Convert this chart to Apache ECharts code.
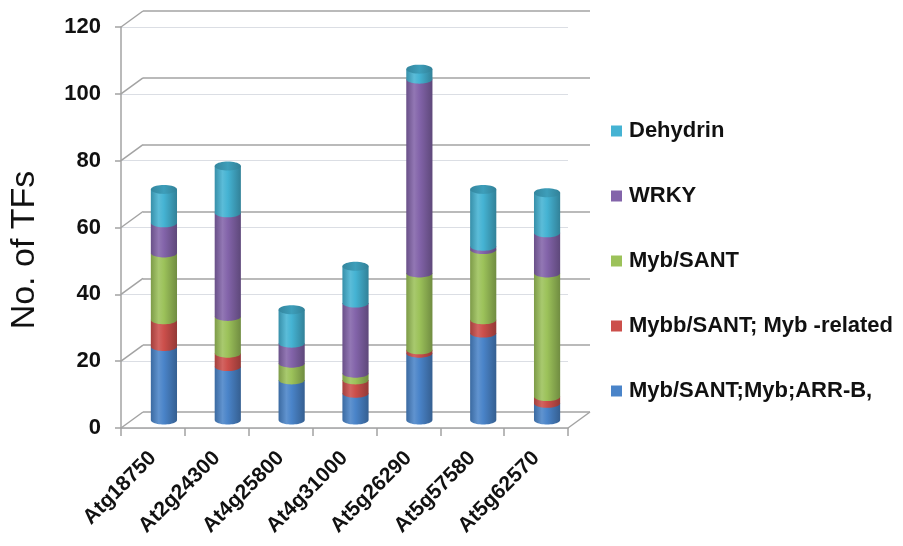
<!DOCTYPE html>
<html>
<head>
<meta charset="utf-8">
<script src="https://cdn.jsdelivr.net/npm/echarts@6/dist/echarts.min.js"></script>
<style>
  html, body { margin: 0; padding: 0; background: #fff; }
  #chart { width: 903px; height: 546px; }
</style>
</head>
<body>
<div id="chart"></div>
<script>
// Promoter genes and the transcription-factor families binding them
const categories = ['Atg18750', 'At2g24300', 'At4g25800', 'At4g31000', 'At5g26290', 'At5g57580', 'At5g62570'];

// Stack order, bottom to top
const arrB      = [22, 16, 12,  8, 20, 26,  5];   // Myb/SANT;Myb;ARR-B,
const mybRel    = [ 8,  4,  0,  4,  1,  4,  2];   // Mybb/SANT; Myb -related
const mybSant   = [20, 11,  5,  2, 23, 21, 37];   // Myb/SANT
const wrky      = [ 9, 31,  6, 21, 58,  1, 12];   // WRKY
const dehydrin  = [10, 14, 10, 11,  3, 17, 12];   // Dehydrin

const yTicks = [0, 20, 40, 60, 80, 100, 120];

const seriesDefs = [
  { name: 'Myb/SANT;Myb;ARR-B,',      values: arrB,     color: '#4a84c9' },
  { name: 'Mybb/SANT; Myb -related',  values: mybRel,   color: '#cc4f4b' },
  { name: 'Myb/SANT',                 values: mybSant,  color: '#9cc25a' },
  { name: 'WRKY',                     values: wrky,     color: '#8364aa' },
  { name: 'Dehydrin',                 values: dehydrin, color: '#45b3d3' }
];

// Pseudo-3D layout: front plane, back wall shifted by DEPTH, bars half-way
const FRONT = { left: 121, top: 27, width: 447, height: 401 };
const DEPTH = { dx: 22, dy: -16 };
const LINE = '#a3a3a3';
const FONT = 'Arial, "Liberation Sans", sans-serif';

function hexToRgb(h) {
  const n = parseInt(h.slice(1), 16);
  return [(n >> 16) & 255, (n >> 8) & 255, n & 255];
}
function mix(hex, target, t) {
  const a = hexToRgb(hex), b = hexToRgb(target);
  const c = a.map((v, i) => Math.round(v + (b[i] - v) * t));
  return 'rgb(' + c.join(',') + ')';
}

// cumulative stacks: [categoryIndex, base, top, isTopSegment]
const stackData = [];
(function () {
  const base = categories.map(() => 0);
  const totals = categories.map((_, i) => seriesDefs.reduce((s, d) => s + d.values[i], 0));
  seriesDefs.forEach(def => {
    stackData.push(categories.map((_, i) => {
      const b = base[i];
      const t = b + def.values[i];
      base[i] = t;
      return [i, b, t, (t === totals[i] && def.values[i] > 0) ? 1 : 0];
    }));
  });
})();

function ellipsePoints(cx, cy, rx, ry, a0, a1, n) {
  const pts = [];
  for (let k = 0; k <= n; k++) {
    const a = a0 + (a1 - a0) * k / n;
    pts.push([cx + rx * Math.cos(a), cy + ry * Math.sin(a)]);
  }
  return pts;
}

function makeCylinderRenderer(color) {
  const side = {
    type: 'linear', x: 0, y: 0, x2: 1, y2: 0,
    colorStops: [
      { offset: 0, color: mix(color, '#000000', 0.2) },
      { offset: 0.3, color: mix(color, '#ffffff', 0.12) },
      { offset: 0.5, color: color },
      { offset: 1, color: mix(color, '#000000', 0.28) }
    ]
  };
  const cap = {
    type: 'linear', x: 0, y: 0, x2: 1, y2: 0,
    colorStops: [
      { offset: 0, color: mix(color, '#000000', 0.25) },
      { offset: 0.5, color: mix(color, '#000000', 0.12) },
      { offset: 1, color: mix(color, '#000000', 0.28) }
    ]
  };
  return function (params, api) {
    const i = api.value(0), b = api.value(1), t = api.value(2), isTop = api.value(3);
    if (t - b <= 0) return null;
    const pT = api.coord([i, t]);
    const pB = api.coord([i, b]);
    const w = api.size([1, 0])[0] * 0.41;
    const rx = w / 2, ry = 4.5;
    const cx = pT[0];
    const pts = [[cx - rx, pT[1]], [cx - rx, pB[1]]]
      .concat(ellipsePoints(cx, pB[1], rx, ry, Math.PI, 0, 24))
      .concat([[cx + rx, pT[1]]]);
    const children = [{ type: 'polygon', shape: { points: pts }, style: { fill: side } }];
    if (isTop) {
      children.push({
        type: 'polygon',
        shape: { points: ellipsePoints(cx, pT[1], rx, ry, 0, Math.PI * 2, 40) },
        style: { fill: cap }
      });
    }
    return { type: 'group', children: children };
  };
}

const chart = echarts.init(document.getElementById('chart'), null, { renderer: 'canvas' });

const valueAxisBase = { type: 'value', min: yTicks[0], max: yTicks[yTicks.length - 1], interval: yTicks[1] - yTicks[0] };

const option = {
  backgroundColor: '#ffffff',
  animation: false,
  grid: [
    { left: FRONT.left + DEPTH.dx, top: FRONT.top + DEPTH.dy, width: FRONT.width, height: FRONT.height },
    { left: FRONT.left, top: FRONT.top, width: FRONT.width, height: FRONT.height },
    { left: FRONT.left + DEPTH.dx / 2, top: FRONT.top + DEPTH.dy / 2, width: FRONT.width, height: FRONT.height }
  ],
  xAxis: [
    { gridIndex: 0, type: 'category', data: categories, show: false },
    {
      gridIndex: 1, type: 'category', data: categories,
      axisLine: { show: true, lineStyle: { color: LINE, width: 1.5 } },
      axisTick: { show: true, length: 8, alignWithLabel: false, lineStyle: { color: LINE, width: 1.5 } },
      axisLabel: { interval: 0, rotate: 45, margin: 27, color: '#111', fontSize: 21, fontWeight: 'bold', fontFamily: FONT }
    },
    { gridIndex: 2, type: 'category', data: categories, show: false }
  ],
  yAxis: [
    Object.assign({ gridIndex: 0 }, valueAxisBase, {
      axisLine: { show: false }, axisTick: { show: false }, axisLabel: { show: false },
      splitLine: { show: true, lineStyle: { color: LINE, width: 1.5 } }
    }),
    Object.assign({ gridIndex: 1 }, valueAxisBase, {
      axisLine: { show: true, lineStyle: { color: LINE, width: 1.5 } },
      axisTick: { show: true, length: 6, lineStyle: { color: LINE, width: 1.5 } },
      axisLabel: { margin: 20, color: '#111', fontSize: 22, fontWeight: 'bold', fontFamily: FONT }
    }),
    Object.assign({ gridIndex: 2 }, valueAxisBase, { show: false, splitLine: { show: false } })
  ],
  legend: {
    orient: 'vertical',
    left: 606,
    top: 115,
    itemWidth: 11,
    itemHeight: 11,
    itemGap: 43,
    icon: 'rect',
    selectedMode: false,
    data: seriesDefs.map(d => d.name).reverse(),
    textStyle: { color: '#111', fontSize: 22, fontWeight: 'bold', fontFamily: FONT, lineHeight: 22, padding: [0, 0, 0, 2] }
  },
  graphic: [
    {
      type: 'text', x: 25, y: 250, rotation: Math.PI / 2,
      style: { text: 'No. of TFs', fill: '#111', font: '34px ' + FONT, textAlign: 'center', textVerticalAlign: 'middle' }
    }
  ],
  series: [
    {
      // slanted edges joining the front axis to the back wall at each tick
      type: 'custom', name: '__edges', xAxisIndex: 0, yAxisIndex: 0, silent: true, z: 1,
      data: yTicks.map(v => [0, v]),
      renderItem: function (params, api) {
        const v = api.value(1);
        const y = api.coord([0, v])[1];
        const cs = params.coordSys;
        const st = { stroke: LINE, lineWidth: 1.5 };
        const kids = [{ type: 'line', shape: { x1: cs.x - DEPTH.dx, y1: y - DEPTH.dy, x2: cs.x, y2: y }, style: st }];
        if (v === yTicks[0]) {
          kids.push({ type: 'line', shape: { x1: cs.x + cs.width - DEPTH.dx, y1: y - DEPTH.dy, x2: cs.x + cs.width, y2: y }, style: st });
        }
        return { type: 'group', children: kids };
      }
    }
  ].concat(seriesDefs.map((def, k) => ({
    type: 'custom',
    name: def.name,
    xAxisIndex: 2,
    yAxisIndex: 2,
    z: 3,
    itemStyle: { color: def.color },
    emphasis: { disabled: true },
    data: stackData[k],
    renderItem: makeCylinderRenderer(def.color)
  })))
};

chart.setOption(option);
</script>
</body>
</html>
